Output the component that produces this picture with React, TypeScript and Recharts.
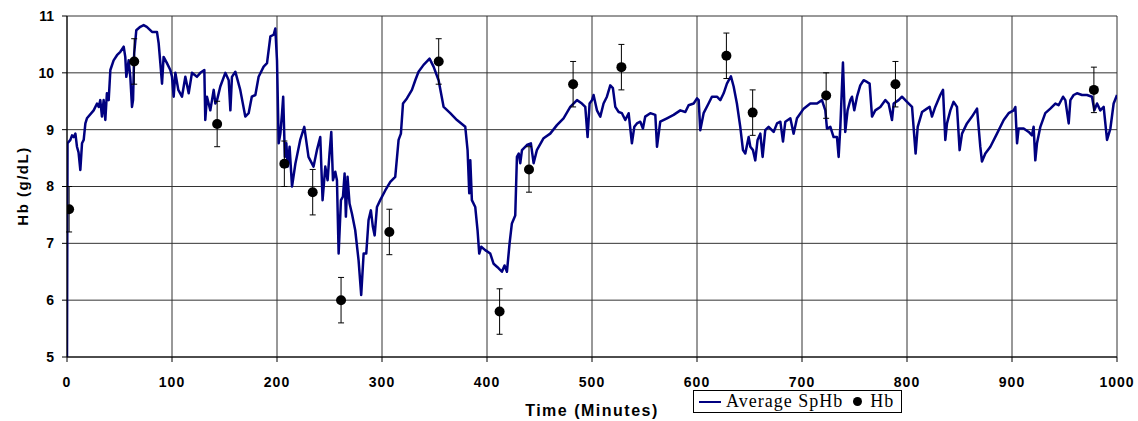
import React from 'react';
import {
  ComposedChart,
  Line,
  Scatter,
  ErrorBar,
  XAxis,
  YAxis,
  CartesianGrid,
  Legend,
  Label,
} from 'recharts';

// Average SpHb trace (minutes, g/dL)
const spHbTime = [
  0, 0.5, 3.2, 4.8, 6.4, 8, 9.5, 11, 12.7, 14.3, 15.9, 17.5, 19, 25.4, 28.6, 30.2, 31.7, 33.3, 34.9, 36.5,
  38, 39.7, 41.3, 44.4, 47.6, 50.8, 54, 55.5, 56.5, 58.7, 60.3, 61.9, 62.9, 64, 66, 69.8, 73, 76, 81, 85.7,
  87.3, 88.9, 90.5, 92, 95.2, 98.4, 100, 101.6, 103.2, 106, 109.5, 112.7, 115.9, 119, 123.8, 127, 130.8, 131.7, 133.3, 136.5,
  139.7, 141.3, 142.9, 146, 150.8, 154, 155.6, 157.1, 160.3, 165, 169.8, 173, 176, 179.4, 182.5, 187.3, 190.5, 193.7, 196.8, 198.4,
  200, 201.6, 203.2, 204.8, 205.9, 207.5, 208.9, 210.2, 212, 214.3, 217.5, 222.1, 226, 230, 234.8, 238, 241.2, 243.4, 246, 248.2,
  250, 251.7, 253.3, 255.5, 257.1, 258.7, 260.9, 262.8, 264.4, 265.6, 267.2, 269.1, 271.4, 274.5, 277.7, 280.2, 282.5, 285, 287.2, 289.4,
  291.3, 293, 295.2, 298.3, 303.1, 307.9, 312.6, 315.8, 318, 320, 323.7, 328.5, 331.7, 334.8, 339.6, 342.8, 345.3, 349.1, 353.9, 358.7,
  365, 371.4, 379.3, 381.5, 383.1, 384.1, 385.6, 388.8, 391, 392.6, 394.5, 398.3, 403.1, 406.3, 410, 414.2, 416.7, 419, 421.5, 423.7,
  426.9, 428.5, 430.2, 431.7, 433.3, 438, 441.8, 444.4, 447.5, 453.9, 460.2, 466.6, 472.9, 479.3, 485.7, 490.4, 493.6, 495.8, 497.7, 500,
  501.5, 504.7, 507.9, 511, 514.2, 517.4, 519.9, 522.2, 525.4, 528.5, 531.7, 534.9, 538, 540.3, 542.8, 546, 548.5, 550.7, 555.5, 560.3,
  561.9, 565, 571.4, 577.7, 584.1, 588.9, 592, 596.8, 600, 601.6, 603.1, 606.3, 611, 614.2, 619, 622.2, 625.4, 628.5, 632.3, 634.9,
  638, 641.2, 643.8, 646, 649.2, 650.8, 653.3, 655.5, 657.7, 660.3, 662.5, 665, 668.2, 673, 676.2, 679.4, 681.9, 684.1, 688.9, 692,
  695.2, 701.6, 707.9, 714.3, 719, 722.2, 723.8, 727, 730.1, 733.3, 734.9, 736.5, 739, 740.2, 741.2, 743.4, 746, 747.6, 749.8, 752.4,
  755.5, 758.7, 761.9, 764.4, 766.7, 769.8, 774.6, 779.4, 782.5, 785.7, 787.3, 792, 795.2, 800, 804.8, 807, 808.2, 810.2, 814.3, 819,
  821.6, 823.8, 826.9, 831.7, 834.3, 836.5, 838.1, 841.3, 844.4, 847.6, 850.1, 852.4, 857.1, 861.9, 866.7, 869.8, 871.4, 874.6, 879.4, 885.7,
  892.1, 896.8, 901.6, 903.2, 904.8, 906.3, 911.1, 915.9, 919, 920.6, 922.2, 923.8, 927, 931.7, 936.5, 941.3, 944.4, 948.6, 950.8, 954,
  955.6, 958.7, 961.9, 966.7, 971.4, 976.2, 978.4, 981, 984.1, 987.3, 990.5, 993.7, 996.8, 1000,
];

const spHbValue = [
  5, 8.76, 8.82, 8.9, 8.87, 8.93, 8.7, 8.6, 8.29, 8.76, 8.82, 9.11, 9.2, 9.34, 9.46, 9.4, 9.52, 9.23, 9.52, 9.17,
  9.64, 9.52, 10.05, 10.22, 10.31, 10.37, 10.46, 10.28, 9.93, 10.22, 9.93, 9.4, 9.52, 10.34, 10.75, 10.81, 10.84, 10.81, 10.72, 10.72,
  10.52, 10.17, 9.81, 10.28, 10.17, 10.05, 9.93, 9.58, 10.0, 9.7, 9.58, 9.93, 9.64, 10.0, 9.93, 10.0, 10.05, 9.17, 9.58, 9.34,
  9.7, 9.46, 9.52, 9.76, 10.0, 9.87, 9.34, 9.93, 10.02, 9.7, 9.23, 9.29, 9.58, 9.61, 9.93, 10.11, 10.17, 10.64, 10.67, 10.78,
  10.22, 8.76, 8.93, 9.29, 9.58, 8.52, 8.76, 8.35, 8.7, 8.0, 8.4, 8.82, 9.05, 8.52, 8.35, 8.64, 8.87, 7.76, 8.35, 8.11,
  8.58, 8.96, 8.11, 8.26, 8.11, 6.82, 7.76, 7.82, 8.23, 7.47, 8.17, 7.7, 7.52, 7.23, 6.7, 6.09, 6.82, 6.82, 7.41, 7.58,
  7.29, 7.14, 7.64, 7.76, 7.93, 8.08, 8.17, 8.82, 8.93, 9.46, 9.55, 9.7, 9.87, 10.02, 10.14, 10.2, 10.25, 10.11, 9.87, 9.4,
  9.29, 9.17, 9.05, 8.64, 7.88, 8.46, 7.76, 7.64, 7.23, 6.82, 6.94, 6.88, 6.82, 6.64, 6.58, 6.5, 6.61, 6.5, 7.0, 7.35,
  7.49, 8.52, 8.58, 8.41, 8.64, 8.73, 8.76, 8.41, 8.64, 8.85, 8.93, 9.08, 9.2, 9.4, 9.52, 9.46, 9.4, 8.87, 9.46, 9.52,
  9.61, 9.34, 9.23, 9.46, 9.58, 9.78, 9.73, 9.4, 9.31, 9.29, 9.17, 9.29, 8.76, 9.05, 9.11, 9.14, 9.02, 9.23, 9.29, 9.26,
  8.7, 9.14, 9.2, 9.26, 9.34, 9.31, 9.43, 9.46, 9.55, 9.52, 8.99, 9.29, 9.46, 9.58, 9.58, 9.52, 9.64, 9.81, 9.94, 9.76,
  9.46, 9.05, 8.64, 8.58, 8.87, 8.7, 8.64, 8.46, 8.82, 8.93, 8.52, 8.99, 9.05, 8.96, 9.11, 9.14, 8.79, 9.14, 9.2, 8.93,
  9.2, 9.37, 9.46, 9.46, 9.52, 9.34, 9.02, 9.05, 8.87, 8.87, 8.52, 9.05, 10.18, 9.52, 8.96, 9.34, 9.52, 9.58, 9.34, 9.58,
  9.78, 9.87, 9.84, 9.81, 9.23, 9.34, 9.4, 9.52, 9.46, 9.17, 9.46, 9.52, 9.58, 9.49, 9.4, 8.87, 8.58, 9.05, 9.31, 9.37,
  9.4, 9.23, 9.4, 9.61, 9.7, 8.82, 9.11, 9.34, 9.49, 9.4, 8.64, 8.93, 9.11, 9.23, 9.37, 8.7, 8.44, 8.58, 8.7, 8.93,
  9.17, 9.29, 9.34, 9.4, 8.76, 9.02, 9.02, 8.96, 8.9, 9.05, 8.46, 8.76, 9.05, 9.29, 9.37, 9.46, 9.43, 9.58, 9.52, 9.11,
  9.52, 9.61, 9.64, 9.61, 9.61, 9.58, 9.34, 9.46, 9.34, 9.4, 8.82, 9.02, 9.46, 9.61,
];

// Lab Hb samples with error bars
const hbTime = [2, 64, 143, 207, 234, 261, 307, 354, 412, 440, 482, 528, 628, 653, 723, 789, 978];
const hbValue = [7.6, 10.2, 9.1, 8.4, 7.9, 6.0, 7.2, 10.2, 5.8, 8.3, 9.8, 10.1, 10.3, 9.3, 9.6, 9.8, 9.7];
const hbError = [0.4, 0.4, 0.4, 0.4, 0.4, 0.4, 0.4, 0.4, 0.4, 0.4, 0.4, 0.4, 0.4, 0.4, 0.4, 0.4, 0.4];

const xTicks = [0, 100, 200, 300, 400, 500, 600, 700, 800, 900, 1000];
const yTicks = [5, 6, 7, 8, 9, 10, 11];

const spHbData = spHbTime.map((t, i) => ({ t, v: spHbValue[i] }));
const hbData = hbTime.map((t, i) => ({ t, v: hbValue[i], err: hbError[i] }));

const LINE_COLOR = '#000080';
const FONT = '"Liberation Sans", Arial, sans-serif';

const tickStyle = { fontSize: 14, fontWeight: 700, fill: '#000', fontFamily: FONT };

function LegendBox() {
  return (
    <div
      style={{
        width: 207,
        height: 21,
        border: '1px solid #000',
        background: '#fff',
        display: 'flex',
        alignItems: 'center',
        fontFamily: '"Liberation Serif", "Times New Roman", serif',
        fontSize: 18,
        letterSpacing: 1,
        color: '#000',
        boxSizing: 'content-box',
      }}
    >
      <span style={{ display: 'inline-block', width: 22, height: 2, background: LINE_COLOR, marginLeft: 5, marginRight: 5 }} />
      <span>Average SpHb</span>
      <span
        style={{ display: 'inline-block', width: 9, height: 9, borderRadius: '50%', background: '#000', marginLeft: 10, marginRight: 8 }}
      />
      <span>Hb</span>
    </div>
  );
}

export default function App() {
  return (
    <div style={{ position: 'absolute', left: 0, top: 0, background: '#fff' }}>
      <ComposedChart width={1138} height={421} margin={{ top: 16, right: 21, bottom: 0, left: 0 }}>
        <CartesianGrid stroke="#333" strokeWidth={1} />
        <XAxis
          type="number"
          dataKey="t"
          domain={[0, 1000]}
          ticks={xTicks}
          allowDataOverflow
          height={64}
          tick={{ ...tickStyle, letterSpacing: 1 }}
          tickSize={5}
          tickMargin={15}
          stroke="#000"
        >
          <Label
            content={() => (
              <text
                x={592}
                y={416}
                textAnchor="middle"
                style={{ fontSize: 16, fontWeight: 700, fontFamily: FONT, letterSpacing: 1.5 }}
                fill="#000"
              >
                Time (Minutes)
              </text>
            )}
          />
        </XAxis>
        <YAxis
          type="number"
          domain={[5, 11]}
          ticks={yTicks}
          allowDataOverflow
          width={67}
          tick={tickStyle}
          tickSize={5}
          tickMargin={8}
          stroke="#000"
        >
          <Label
            content={() => (
              <text
                x={22}
                y={186}
                transform="rotate(-90 22 186)"
                textAnchor="middle"
                dominantBaseline="central"
                style={{ fontSize: 15, fontWeight: 700, fontFamily: FONT, letterSpacing: 1.5 }}
                fill="#000"
              >
                Hb (g/dL)
              </text>
            )}
          />
        </YAxis>
        <Line
          data={spHbData}
          dataKey="v"
          type="linear"
          stroke={LINE_COLOR}
          strokeWidth={2.5}
          strokeLinejoin="round"
          dot={false}
          activeDot={false}
          isAnimationActive={false}
          name="Average SpHb"
        />
        <Scatter data={hbData} dataKey="v" fill="#000" isAnimationActive={false} name="Hb" shape={(p: any) => <circle cx={p.cx} cy={p.cy} r={5} fill="#000" />}>
          <ErrorBar dataKey="err" direction="y" width={3} stroke="#000" strokeWidth={1} isAnimationActive={false} />
        </Scatter>
        <Legend
          layout="vertical"
          align="center"
          verticalAlign="middle"
          wrapperStyle={{ left: 693, top: 390, width: 209, height: 23 }}
          content={() => <LegendBox />}
        />
      </ComposedChart>
    </div>
  );
}
